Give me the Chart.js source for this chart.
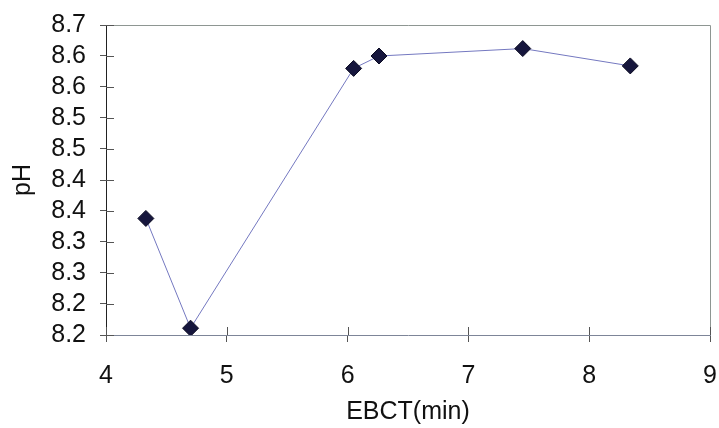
<!DOCTYPE html>
<html>
<head>
<meta charset="utf-8">
<title>pH vs EBCT</title>
<script src="https://cdn.jsdelivr.net/npm/chart.js@4/dist/chart.umd.min.js"></script>
<style>
  html, body { margin: 0; padding: 0; background: #fff; }
  canvas { display: block; }
</style>
</head>
<body>
<canvas id="phChart" width="719" height="428"></canvas>
<script>
// EBCT (min) against pH
const ebct = [4.33, 4.70, 6.05, 6.26, 7.45, 8.34];
const ph = [8.388, 8.211, 8.630, 8.650, 8.662, 8.634];

// y ticks every 0.05, labels rounded to one decimal
const yTickValues = [8.2, 8.25, 8.3, 8.35, 8.4, 8.45, 8.5, 8.55, 8.6, 8.65, 8.7];
const yTickLabels = ['8.2', '8.2', '8.3', '8.3', '8.4', '8.4', '8.5', '8.5', '8.6', '8.6', '8.7'];
const xTickValues = [4, 5, 6, 7, 8, 9];

const FONT = 'Liberation Sans, Arial, sans-serif';

// frame on top/right plus the short tick parts inside the plot
const frameTicks = {
    id: 'frameTicks',
    afterDraw(chart) {
        const ctx = chart.ctx;
        const a = chart.chartArea;
        ctx.save();
        ctx.lineWidth = 1;
        ctx.strokeStyle = '#8e9692';
        ctx.beginPath();
        ctx.moveTo(a.left, a.top + 0.5);
        ctx.lineTo(a.right + 0.5, a.top + 0.5);
        ctx.lineTo(a.right + 0.5, a.bottom);
        ctx.stroke();

        ctx.strokeStyle = '#555';
        ctx.beginPath();
        chart.scales.y.ticks.forEach(t => {
            const py = Math.round(chart.scales.y.getPixelForValue(t.value)) + 0.5;
            ctx.moveTo(a.left, py);
            ctx.lineTo(a.left + 8, py);
        });
        chart.scales.x.ticks.forEach(t => {
            const px = Math.round(chart.scales.x.getPixelForValue(t.value)) + 0.5;
            ctx.moveTo(px, a.bottom);
            ctx.lineTo(px, a.bottom - 8);
        });
        ctx.stroke();
        ctx.restore();
    }
};

new Chart(document.getElementById('phChart'), {
    type: 'scatter',
    data: {
        datasets: [{
            data: ebct.map((x, i) => ({ x: x, y: ph[i] })),
            showLine: true,
            borderColor: '#7478c0',
            borderWidth: 1,
            pointStyle: 'rectRot',
            pointRadius: 8,
            pointBackgroundColor: '#16163d',
            pointBorderColor: '#0b0b22',
            pointBorderWidth: 1
        }]
    },
    options: {
        responsive: false,
        animation: false,
        layout: { padding: { top: 25, right: 8, left: 0, bottom: 0 } },
        plugins: {
            legend: { display: false },
            tooltip: { enabled: false }
        },
        scales: {
            x: {
                type: 'linear',
                min: 4,
                max: 9,
                afterBuildTicks: s => { s.ticks = xTickValues.map(v => ({ value: v })); },
                afterFit: s => { s.height = 93; s.paddingLeft = 0; s.paddingRight = 0; },
                ticks: {
                    font: { family: FONT, size: 25 },
                    color: '#111',
                    padding: 19
                },
                grid: { drawOnChartArea: false, tickLength: 7, color: '#555' },
                border: { color: '#7d8598', width: 1 },
                title: {
                    display: true,
                    text: 'EBCT(min)',
                    font: { family: FONT, size: 25 },
                    color: '#111',
                    padding: { top: 0, bottom: 1 }
                }
            },
            y: {
                min: 8.2,
                max: 8.7,
                afterBuildTicks: s => { s.ticks = yTickValues.map(v => ({ value: v })); },
                afterFit: s => { s.width = 106; s.paddingTop = 0; s.paddingBottom = 0; },
                ticks: {
                    autoSkip: false,
                    font: { family: FONT, size: 25 },
                    color: '#111',
                    padding: 14,
                    callback: (v, i) => yTickLabels[i]
                },
                grid: { drawOnChartArea: false, tickLength: 6, color: '#555' },
                border: { color: '#222', width: 1 },
                title: {
                    display: true,
                    text: 'pH',
                    font: { family: FONT, size: 25 },
                    color: '#111',
                    padding: { top: 8, bottom: 0 }
                }
            }
        }
    },
    plugins: [frameTicks]
});
</script>
</body>
</html>
